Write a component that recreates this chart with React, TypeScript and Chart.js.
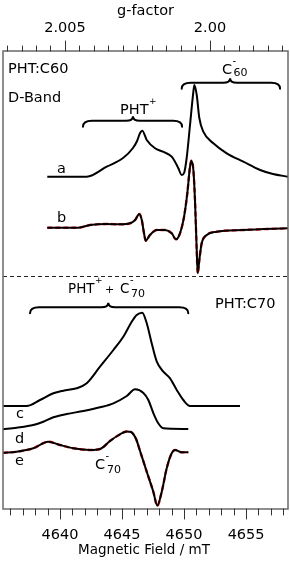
import { useEffect, useRef } from 'react';
import { Chart, registerables } from 'chart.js';
Chart.register(...registerables);

// ---- data (field in mT, signal in stacked offset units) ----
const aField = [4638.97, 4642.15, 4643.76, 4645.08, 4645.88, 4646.21, 4646.45, 4646.63, 4646.99, 4647.66, 4648.30, 4649.00, 4649.41, 4649.54, 4649.81, 4650.00, 4650.21, 4650.48, 4650.75, 4650.83, 4651.02, 4651.23, 4651.55, 4652.36, 4653.44, 4654.78, 4656.13, 4657.17, 4658.38];
const aSignal = [332.3, 332.3, 342.3, 351, 361, 368, 376, 378.3, 369, 360.7, 357.3, 352.3, 344, 340.7, 334, 336, 351, 384, 417.3, 424, 414, 391, 377.3, 365.7, 355.7, 347.3, 339, 335, 332.3];

const bField = [4638.97, 4641.47, 4642.42, 4643.76, 4644.84, 4645.64, 4646.05, 4646.39, 4646.59, 4646.77, 4646.91, 4647.25, 4647.80, 4648.47, 4649.00, 4649.35, 4649.67, 4650.00, 4650.26, 4650.48, 4650.59, 4650.75, 4650.88, 4651.02, 4651.10, 4651.23, 4651.42, 4651.83, 4652.63, 4654.78, 4658.38];
const bSignal = [281.3, 281.3, 284, 285, 284.7, 285.7, 289, 295, 289, 275.7, 268.3, 274, 279, 279, 275.7, 269.7, 275.7, 292.3, 315.7, 342.3, 348.3, 339, 309, 259, 235.7, 249, 265.7, 274, 277.3, 279, 280.7];
const bFit = bSignal;

const cField = [4635.42, 4637.31, 4638.38, 4639.46, 4640.26, 4641.34, 4642.15, 4643.22, 4644.30, 4645.10, 4645.78, 4646.18, 4646.63, 4646.99, 4647.39, 4647.80, 4648.33, 4648.87, 4649.41, 4649.94, 4650.48, 4654.51];
const cSignal = [103, 103, 109, 115.7, 118.3, 120.7, 125.7, 142.3, 159, 172.3, 187.3, 194, 196.3, 185.7, 165.7, 147.3, 137.3, 130.7, 119, 109, 103, 103];

const dField = [4635.38, 4636.50, 4637.84, 4638.65, 4639.46, 4640.54, 4641.88, 4643.22, 4644.30, 4645.38, 4646.05, 4646.72, 4647.12, 4647.52, 4647.92, 4648.33, 4649.00, 4650.34];
const dSignal = [79.7, 81.3, 84, 87.3, 91.7, 95, 98, 101.7, 105.7, 113, 119.7, 116, 109, 96, 85.7, 80.7, 80.3, 80];

const eField = [4635.38, 4636.50, 4637.84, 4639.05, 4640.00, 4641.07, 4642.42, 4643.22, 4644.03, 4644.67, 4645.40, 4645.72, 4646.13, 4646.45, 4646.99, 4647.52, 4647.84, 4648.20, 4648.60, 4649.00, 4649.27, 4649.81, 4650.34];
const eSignal = [56.3, 57.3, 60.7, 67.3, 64, 60.7, 59, 60, 68, 73.5, 77.5, 77, 70, 58, 37.3, 17.3, 3.3, 17.3, 40.7, 55.7, 59, 56.7, 56.7];
const eFit = eSignal;

const separatorLevel = 233;

const fieldTicks = [4640, 4645, 4650, 4655];
const fieldMinorStart = 4636;
const fieldMinorEnd = 4658;
const gTicks = [2.005, 2.0];
const gTickLabels = ['2.005', '2.00'];
const gMinorStart = 1.9975;
const gMinorEnd = 2.007;

const FONT = '"DejaVu Sans", sans-serif';

const toPts = (xs: number[], ys: number[]) => xs.map((x, i) => ({ x, y: ys[i] }));

export default function App() {
  const ref = useRef<HTMLCanvasElement | null>(null);
  useEffect(() => {
    document.body.style.margin = '0';
    const canvas = ref.current!;
    const decor = {
      id: 'decor',
      beforeDatasetsDraw(chart: any) {
        const ctx = chart.ctx;
        const ys = chart.scales.y;
        const ca = chart.chartArea;
        ctx.save();
        ctx.strokeStyle = '#222';
        ctx.lineWidth = 1;
        ctx.setLineDash([4, 3]);
        ctx.beginPath();
        const sy = Math.round(ys.getPixelForValue(separatorLevel)) + 0.5;
        ctx.moveTo(ca.left, sy);
        ctx.lineTo(ca.right, sy);
        ctx.stroke();
        ctx.setLineDash([]);
        ctx.restore();
      },
      afterDraw(chart: any) {
        const ctx = chart.ctx;
        const xs = chart.scales.x;
        const xg = chart.scales.xg;
        const ys = chart.scales.y;
        const ca = chart.chartArea;
        ctx.save();
        const brace = (f1: number, f2: number, fm: number, lvl: number) => {
          const x1 = xs.getPixelForValue(f1);
          const x2 = xs.getPixelForValue(f2);
          const xm = xs.getPixelForValue(fm);
          const y = ys.getPixelForValue(lvl);
          const h = 6;
          const c = 4.5;
          ctx.beginPath();
          ctx.moveTo(x1, y + h);
          ctx.quadraticCurveTo(x1, y, x1 + 9, y);
          ctx.lineTo(xm - 7, y);
          ctx.quadraticCurveTo(xm, y, xm, y - c);
          ctx.quadraticCurveTo(xm, y, xm + 7, y);
          ctx.lineTo(x2 - 9, y);
          ctx.quadraticCurveTo(x2, y, x2, y + h);
          ctx.stroke();
        };
        ctx.strokeStyle = '#000';
        ctx.lineWidth = 2;
        ctx.lineCap = 'round';
        brace(4641.85, 4649.84, 4645.88, 388.3);
        brace(4649.81, 4657.74, 4653.71, 426.3);
        brace(4637.58, 4650.34, 4643.89, 201.7);

        ctx.strokeStyle = '#6a6a6a';
        ctx.lineWidth = 1.5;
        ctx.strokeRect(ca.left, ca.top, ca.right - ca.left, ca.bottom - ca.top);

        ctx.strokeStyle = '#333';
        ctx.lineWidth = 1;
        ctx.beginPath();
        for (let v = fieldMinorStart; v <= fieldMinorEnd + 1e-9; v += 1) {
          const x = Math.round(xs.getPixelForValue(v)) + 0.5;
          const major = fieldTicks.includes(v);
          ctx.moveTo(x, ca.bottom);
          ctx.lineTo(x, ca.bottom + (major ? 10 : 6));
        }
        for (let k = 0; ; k++) {
          const v = gMinorStart + k * 0.0005;
          if (v > gMinorEnd + 1e-9) break;
          const x = Math.round(xg.getPixelForValue(v)) + 0.5;
          const major = gTicks.some((t) => Math.abs(t - v) < 1e-7);
          ctx.moveTo(x, ca.top);
          ctx.lineTo(x, ca.top - (major ? 10 : 5));
        }
        ctx.stroke();

        ctx.fillStyle = '#000';
        ctx.textBaseline = 'alphabetic';
        ctx.textAlign = 'center';
        ctx.font = `14.5px ${FONT}`;
        fieldTicks.forEach((v) => ctx.fillText(String(v), xs.getPixelForValue(v), 539));
        gTicks.forEach((v, i) => ctx.fillText(gTickLabels[i], xg.getPixelForValue(v), 32));
        ctx.fillText('g-factor', (ca.left + ca.right) / 2, 15);
        ctx.font = `13.5px ${FONT}`;
        ctx.fillText('Magnetic Field / mT', 144, 554);

        ctx.textAlign = 'left';
        const t = (s: string, x: number, y: number, size = 14.5) => {
          ctx.font = `${size}px ${FONT}`;
          ctx.fillText(s, x, y);
          return x + ctx.measureText(s).width;
        };
        t('PHT:C60', 8, 73);
        t('D-Band', 8, 102);
        let e = t('PHT', 120, 114);
        t('+', e + 0.5, 104, 9);
        e = t('C', 222, 74);
        t('-', e + 0.5, 64, 10);
        t('60', e + 1.5, 76, 11);
        t('a', 57, 173);
        t('b', 57, 222);
        t('c', 16, 418);
        t('d', 15, 443);
        t('e', 15, 465);
        e = t('PHT', 68, 293, 13.5);
        t('+', e + 0.5, 283, 9);
        t('+', 105, 293, 11);
        e = t('C', 120, 293, 13.5);
        t('-', e + 0.5, 283, 10);
        t('70', e + 1.5, 297, 11);
        t('PHT:C70', 215, 308);
        e = t('C', 95, 469);
        t('-', e + 0.5, 459, 10);
        t('70', e + 2, 473, 11);
        ctx.restore();
      },
    };
    const black = (data: any) => ({
      data,
      borderColor: '#000',
      borderWidth: 2,
      pointRadius: 0,
      showLine: true,
      cubicInterpolationMode: 'monotone',
    });
    const red = (data: any) => ({
      data,
      borderColor: '#ff1a1a',
      borderWidth: 2.4,
      borderDash: [5, 3],
      pointRadius: 0,
      showLine: true,
      cubicInterpolationMode: 'monotone',
    });
    const chart = new Chart(canvas, {
      type: 'scatter',
      data: {
        datasets: [
          black(toPts(aField, aSignal)),
          black(toPts(bField, bSignal)),
          red(toPts(bField, bFit)),
          black(toPts(cField, cSignal)),
          black(toPts(dField, dSignal)),
          black(toPts(eField, eSignal)),
          red(toPts(eField, eFit)),
        ] as any,
      },
      options: {
        animation: false,
        responsive: false,
        maintainAspectRatio: false,
        devicePixelRatio: 1,
        layout: { padding: { left: 3, right: 2, top: 51, bottom: 52 } },
        scales: {
          x: { type: 'linear', min: 4635.4, max: 4658.38, display: false },
          xg: { type: 'linear', axis: 'x', min: 1.99731, max: 2.007138, reverse: true, display: false },
          y: { type: 'linear', min: 0, max: 458, display: false },
        },
        plugins: { legend: { display: false }, tooltip: { enabled: false } },
      } as any,
      plugins: [decor],
    });
    return () => chart.destroy();
  }, []);
  return <canvas ref={ref} width={290} height={561} style={{ display: 'block', width: 290, height: 561 }} />;
}
